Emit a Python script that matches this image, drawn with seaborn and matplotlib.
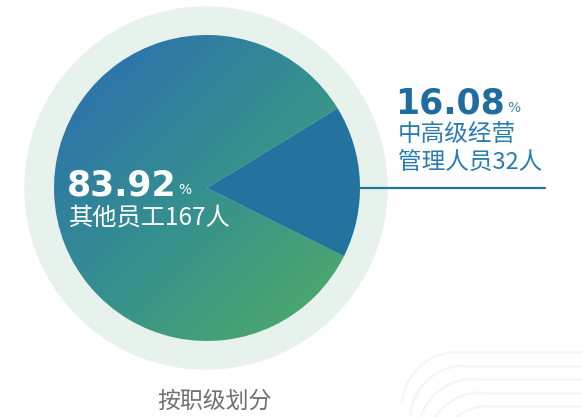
"""
employee split by job level - pie with gradient slice
"""
import numpy as np
import matplotlib.pyplot as plt
import seaborn as sns
from matplotlib.patches import Circle, Arc
from matplotlib.colors import LinearSegmentedColormap

# data
labels = ['中高级经营管理人员', '其他员工']
counts = [32, 167]
pcts = ['16.08', '83.92']
title = '按职级划分'

sns.set_theme(style='white')
plt.rcParams['font.family'] = ['Noto Sans CJK SC', 'DejaVu Sans']

W, H = 582, 417
fig = plt.figure(figsize=(W / 100, H / 100), dpi=100)
ax = fig.add_axes([0, 0, 1, 1])

cx, cy, r = 207, H - 188, 153

# light ring behind the pie
ax.add_patch(Circle((cx - 1, cy), 181, color='#e7f2ed', zorder=0))

# decorative curves, bottom right
for i in range(5):
    y = H - (352 + 13.5 * i)
    xs = 457 + 8 * i
    R = 55
    ax.plot([xs, W + 5], [y, y], color='#f5f5f5', lw=1.8, zorder=0,
            solid_capstyle='butt')
    ax.add_patch(Arc((xs, y - R), 2 * R, 2 * R, theta1=90, theta2=175,
                     color='#f5f5f5', lw=1.8, zorder=0))

start = -26.5
wedges, _ = ax.pie(counts, startangle=start, counterclock=True, center=(cx, cy),
                   radius=r, colors=['#22739e', 'none'],
                   wedgeprops=dict(linewidth=0))

# gradient fill for the big slice, top-left blue -> bottom-right green
cmap = LinearSegmentedColormap.from_list('bg', ['#2a6bb3', '#35908f', '#52ae63'])
n = 300
gx, gy = np.meshgrid(np.linspace(0, 1, n), np.linspace(0, 1, n))
grad = (gx + gy) / 2
img = ax.imshow(grad, cmap=cmap, extent=[cx - r, cx + r, cy - r, cy + r],
                origin='upper', zorder=1, interpolation='bilinear')
img.set_clip_path(wedges[1])
wedges[0].set_zorder(2)

ax.set_xlim(0, W)
ax.set_ylim(0, H)
ax.set_aspect('equal')
ax.axis('off')

# leader line
ax.plot([cx + 138, 545], [cy, cy], color='#2474a0', lw=1.6, zorder=3)


def pct_label(x, y, value, color, pcolor):
    t = ax.text(x, y, value, fontsize=25, fontweight='bold', color=color,
                family='DejaVu Sans', ha='left', va='baseline', zorder=4)
    ax.annotate('%', xy=(1, 0), xycoords=t, xytext=(1.5, 5.8),
                textcoords='offset points', fontsize=10, color=pcolor,
                family='DejaVu Sans', ha='left', va='baseline', zorder=4)


# labels - small slice
pct_label(395, H - 113, pcts[0], '#1f6c9e', '#3c86b3')
ax.text(398, H - 141, '中高级经营', fontsize=17, color='#2a7bb0',
        ha='left', va='baseline')
ax.text(398, H - 169, f'管理人员{counts[0]}人', fontsize=17, color='#2a7bb0',
        ha='left', va='baseline')

# labels - big slice
pct_label(67, H - 195, pcts[1], 'white', 'white')
ax.text(69, H - 225, f'其他员工{counts[1]}人', fontsize=17.5, color='white',
        ha='left', va='baseline', zorder=4)

ax.text(214, H - 401, title, fontsize=16.5, color='#707070', ha='center', va='center')

fig.savefig('out.png', dpi=100, facecolor='white')
